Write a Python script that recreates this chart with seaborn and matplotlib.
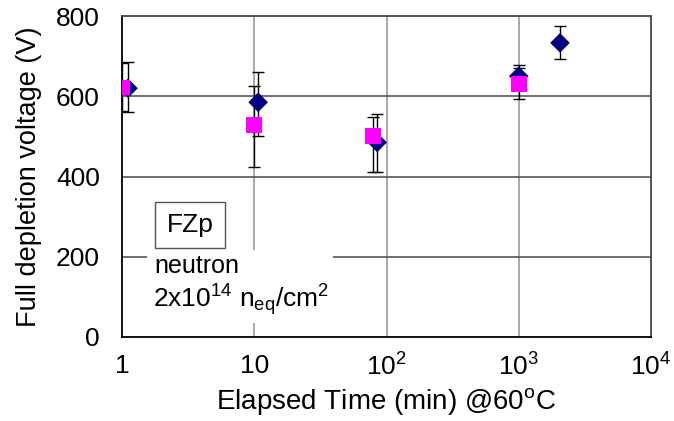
import matplotlib
matplotlib.use("Agg")
import matplotlib.pyplot as plt
import seaborn as sns
import pandas as pd
import numpy as np
from matplotlib.patches import Rectangle

# Data
diamond_time = [1.11, 10.7, 85, 1000, 2050]
diamond_v = [620, 585, 485, 650, 733]
diamond_err_lo = [60, 85, 75, 30, 40]
diamond_err_hi = [65, 75, 70, 28, 42]

square_time = [1.0, 10.0, 79, 1000]
square_v = [622, 528, 500, 630]
square_err_lo = [58, 105, 88, 38]
square_err_hi = [60, 97, 48, 40]

xticks = [1, 10, 100, 1000, 10000]
xticklabels = ["1", "10", "10$^2$", "10$^3$", "10$^4$"]
yticks = [0, 200, 400, 600, 800]

sns.set_style("white")
plt.rcParams["font.family"] = ["Liberation Sans", "DejaVu Sans"]
plt.rcParams["mathtext.fontset"] = "custom"
plt.rcParams["mathtext.rm"] = "Liberation Sans"
plt.rcParams["mathtext.it"] = "Liberation Sans"
plt.rcParams["text.color"] = "black"
plt.rcParams["axes.labelcolor"] = "black"
plt.rcParams["xtick.color"] = "black"
plt.rcParams["ytick.color"] = "black"

fig = plt.figure(figsize=(6.74, 4.21), dpi=100)
ax = fig.add_axes([122/674, 1-337/421, (651-122)/674, (337-16)/421])

ax.set_xscale("log")
ax.set_xlim(1, 10000)
ax.set_ylim(0, 800)

for x in xticks[1:-1]:
    ax.axvline(x, color="#999999", lw=1.2, zorder=0)
for y in yticks[1:-1]:
    ax.axhline(y, color="#555555", lw=1.2, zorder=0)

# white text area covering grid
ax.add_patch(Rectangle((147/674, 1-323/421), (333-147)/674, (323-250)/421,
                       transform=fig.transFigure, facecolor="white",
                       edgecolor="none", zorder=1))

ax.errorbar(diamond_time, diamond_v, yerr=[diamond_err_lo, diamond_err_hi],
            fmt="none", ecolor="black", elinewidth=1, capsize=4, capthick=1, zorder=2)
ax.errorbar(square_time, square_v, yerr=[square_err_lo, square_err_hi],
            fmt="none", ecolor="black", elinewidth=1, capsize=4, capthick=1, zorder=2)

df_d = pd.DataFrame({"t": diamond_time, "v": diamond_v})
df_s = pd.DataFrame({"t": square_time, "v": square_v})
sns.scatterplot(data=df_d, x="t", y="v", marker="D", color="#000080", s=100,
                edgecolor="none", ax=ax, zorder=3)
sns.scatterplot(data=df_s, x="t", y="v", marker="s", color="#FF00FF", s=130,
                edgecolor="none", ax=ax, zorder=4)

ax.set_xticks(xticks)
ax.set_xticklabels(xticklabels, fontsize=19)
ax.minorticks_off()
ax.set_yticks(yticks)
ax.set_yticklabels([str(v) for v in yticks], fontsize=19)
ax.tick_params(axis="x", length=0, pad=12)
ax.tick_params(axis="y", length=0, pad=16)

ax.set_xlabel("Elapsed Time (min) @60$^{\\rm o}$C", fontsize=20, labelpad=4)
ax.set_ylabel("Full depletion voltage (V)", fontsize=19.5, labelpad=10)

for side in ["left", "bottom"]:
    ax.spines[side].set_color("black")
    ax.spines[side].set_linewidth(1.3)
for side in ["top", "right"]:
    ax.spines[side].set_color("#444444")
    ax.spines[side].set_linewidth(1.3)

# FZp box
fig.text(190/674, 1-225/421, "FZp", fontsize=19, ha="center", va="center",
         bbox=dict(boxstyle="square,pad=0.42", facecolor="white", edgecolor="#555555", lw=1))
fig.text(154/674, 1-266/421, "neutron", fontsize=18, ha="left", va="center")
fig.text(153/674, 1-300/421, "2x10$^{14}$ n$_{\\rm eq}$/cm$^2$", fontsize=19, ha="left", va="center")

fig.savefig("out.png", dpi=100)
